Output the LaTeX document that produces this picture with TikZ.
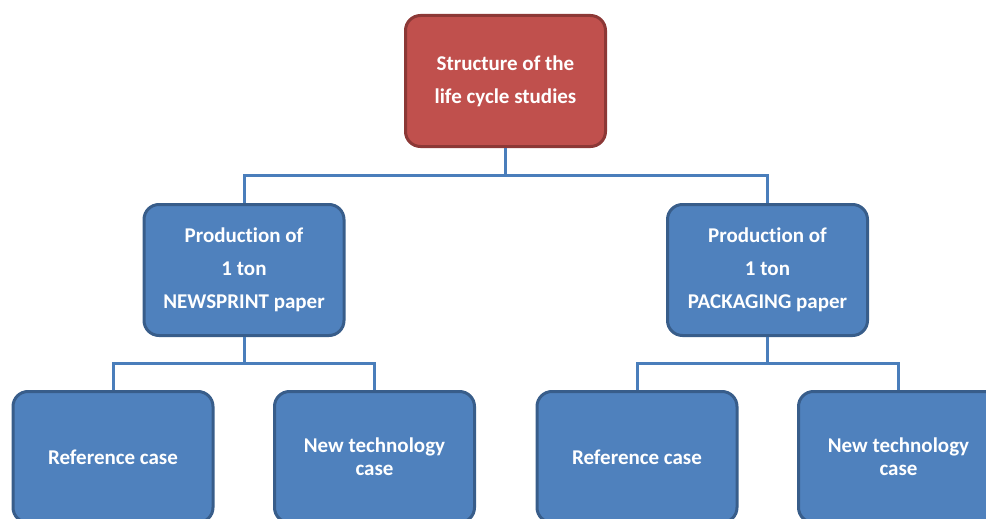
\documentclass[tikz,border=0pt]{standalone}
\usepackage{fontspec}
\setmainfont{Carlito}[Ligatures=NoCommon]
\definecolor{redfill}{HTML}{C0504D}
\definecolor{redline}{HTML}{8C3836}
\definecolor{bluefill}{HTML}{4F81BD}
\definecolor{blueline}{HTML}{385D8A}
\definecolor{connline}{HTML}{4A7EBB}
\tikzset{
  box/.style={draw=blueline, fill=bluefill, line width=3pt, rounded corners=15pt,
    minimum width=200pt, minimum height=131pt, align=center, text=white,
    font=\bfseries\fontsize{21}{33}\selectfont, inner sep=0pt},
  topbox/.style={box, draw=redline, fill=redfill},
  lowbox/.style={box, font=\bfseries\fontsize{21}{23}\selectfont},
  conn/.style={draw=connline, line width=3pt}
}
\begin{document}
\begin{tikzpicture}[x=1pt,y=-1pt]
\useasboundingbox (0,0) rectangle (986,519);
\node[topbox] (top) at (505.5,81) {Structure of the\\life cycle studies};
\node[box] (nl) at (244,270) {Production of\\1 ton\\NEWSPRINT paper};
\node[box] (nr) at (767.5,270) {Production of\\1 ton\\PACKAGING paper};
\node[lowbox] (ll) at (113,457) {Reference case};
\node[lowbox] (lr) at (374.5,457) {New technology\\case};
\node[lowbox] (rl) at (637,457) {Reference case};
\node[lowbox] (rr) at (898.5,457) {New technology\\case};
\coordinate (j1) at (505.5,175);
\coordinate (j2) at (244,363);
\coordinate (j3) at (767.5,363);
\draw[conn] (top.south) -- (j1) -| (nl.north);
\draw[conn] (j1) -| (nr.north);
\draw[conn] (nl.south) -- (j2) -| (ll.north);
\draw[conn] (j2) -| (lr.north);
\draw[conn] (nr.south) -- (j3) -| (rl.north);
\draw[conn] (j3) -| (rr.north);
\end{tikzpicture}
\end{document}
